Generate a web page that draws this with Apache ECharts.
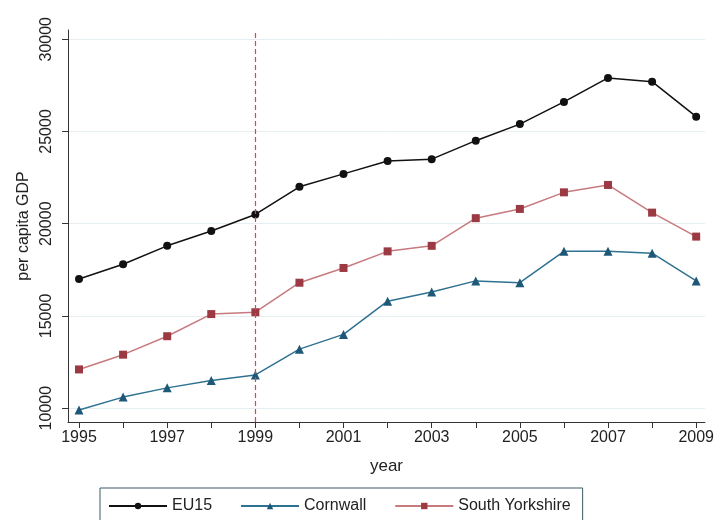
<!DOCTYPE html>
<html style="height: 100%">
<head>
	<meta charset="utf-8">
</head>
<body style="height: 100%; margin: 0; background: #fff">
<div id="container" style="width: 719px; height: 520px"></div>
<script type="text/javascript" src="https://cdn.jsdelivr.net/npm/echarts@6/dist/echarts.min.js"></script>
<script type="text/javascript">
    var years = [1995, 1996, 1997, 1998, 1999, 2000, 2001, 2002, 2003, 2004, 2005, 2006, 2007, 2008, 2009];
    var yearLabels = [1995, 1997, 1999, 2001, 2003, 2005, 2007, 2009];
    var gdpTicks = [10000, 15000, 20000, 25000, 30000];
    var eu15 = [17000, 17800, 18800, 19600, 20500, 22000, 22700, 23400, 23500, 24500, 25400, 26600, 27900, 27700, 25800];
    var cornwall = [9900, 10600, 11100, 11500, 11800, 13200, 14000, 15800, 16300, 16900, 16800, 18500, 18500, 18400, 16900];
    var southYorkshire = [12100, 12900, 13900, 15100, 15200, 16800, 17600, 18500, 18800, 20300, 20800, 21700, 22100, 20600, 19300];
    var markYear = 1999;

    function pairs(vals) {
        return years.map(function (y, i) { return [y, vals[i]]; });
    }

    var font = 'Liberation Sans';
    var dom = document.getElementById("container");
    var myChart = echarts.init(dom);
    var option = {
        backgroundColor: '#fff',
        textStyle: { fontFamily: font },
        grid: { left: 68, right: 14, top: 30, bottom: 98 },
        legend: {
            top: 488,
            left: 100,
            width: 482,
            padding: [10, 12, 20, 8],
            borderColor: '#3d5866',
            borderWidth: 1,
            itemWidth: 58,
            itemHeight: 8,
            itemGap: 28,
            textStyle: { fontSize: 16, color: '#222', fontFamily: font },
            data: ['EU15', 'Cornwall', 'South Yorkshire']
        },
        xAxis: {
            type: 'value',
            min: 1994.75,
            max: 2009.2,
            name: 'year',
            nameLocation: 'middle',
            nameGap: 36,
            nameTextStyle: { fontSize: 17, color: '#222' },
            axisLine: { show: true, lineStyle: { color: '#333', width: 1 } },
            axisTick: { show: true, length: 6, customValues: years, lineStyle: { color: '#333' } },
            axisLabel: { customValues: yearLabels, fontSize: 16, color: '#222', margin: 8, formatter: function (v) { return String(v); } },
            splitLine: { show: false }
        },
        yAxis: {
            type: 'value',
            min: 9250,
            max: 30500,
            name: 'per capita GDP',
            nameLocation: 'middle',
            nameGap: 36,
            nameRotate: 90,
            nameTextStyle: { fontSize: 16, color: '#222' },
            axisLine: { show: true, lineStyle: { color: '#333', width: 1 } },
            axisTick: { show: true, length: 6, customValues: gdpTicks, lineStyle: { color: '#333' } },
            axisLabel: { customValues: gdpTicks, rotate: 90, fontSize: 16, color: '#222', margin: 13, formatter: function (v) { return String(v); } },
            splitLine: { show: true, lineStyle: { color: '#e6eef2', width: 1 } }
        },
        series: [
            {
                name: 'EU15',
                type: 'line',
                data: pairs(eu15),
                symbol: 'circle',
                symbolSize: 8,
                itemStyle: { color: '#111' },
                lineStyle: { color: '#111', width: 1.5 },
                markLine: {
                    silent: true,
                    symbol: 'none',
                    label: { show: false },
                    lineStyle: { color: '#d9454a', type: [5, 3], width: 1.2, opacity: 1 },
                    data: [{ xAxis: markYear }]
                }
            },
            {
                name: 'Cornwall',
                type: 'line',
                data: pairs(cornwall),
                symbol: 'triangle',
                symbolSize: 9,
                itemStyle: { color: '#1e5878' },
                lineStyle: { color: '#2f7290', width: 1.5 }
            },
            {
                name: 'South Yorkshire',
                type: 'line',
                data: pairs(southYorkshire),
                symbol: 'rect',
                symbolSize: 8,
                itemStyle: { color: '#9c3a44' },
                lineStyle: { color: '#c77a7e', width: 1.5 }
            }
        ]
    };

    myChart.setOption(option, true);
</script>
</body>
</html>
